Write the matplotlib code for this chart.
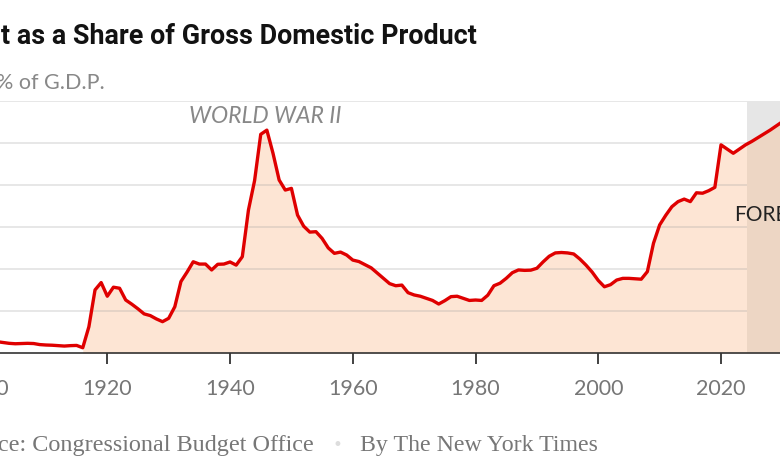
import numpy as np
import matplotlib.pyplot as plt

# debt held by the public, % of GDP
years = np.arange(1900, 2036)
debt = [6.0, 5.7, 5.4, 5.0, 4.6, 4.4, 4.5, 4.6, 4.5, 4.0,
        3.8, 3.7, 3.5, 3.3, 3.5, 3.6, 2.5, 12.5, 30.0, 33.5,
        27.0, 31.3, 30.8, 25.2, 23.2, 21.0, 18.6, 17.8, 16.2, 14.9,
        16.5, 22.0, 34.0, 38.5, 43.4, 42.3, 42.3, 39.5, 42.2, 42.3,
        43.3, 41.8, 45.8, 68.0, 82.0, 104.0, 106.0, 95.0, 82.3, 77.5,
        78.3, 65.6, 60.3, 57.5, 57.7, 54.5, 50.0, 47.4, 48.0, 46.6,
        44.2, 43.5, 42.0, 40.5, 38.0, 35.5, 33.0, 32.0, 32.3, 28.7,
        27.6, 27.0, 26.0, 25.0, 23.3, 24.9, 26.8, 27.0, 26.0, 25.0,
        25.2, 25.0, 27.5, 32.0, 33.2, 35.5, 38.2, 39.5, 39.3, 39.4,
        40.3, 43.3, 46.0, 47.6, 47.8, 47.6, 47.1, 44.7, 41.8, 38.5,
        34.5, 31.5, 32.5, 34.7, 35.5, 35.5, 35.3, 35.1, 38.7, 52.2,
        60.9, 65.5, 69.6, 72.0, 73.2, 72.0, 76.2, 76.0, 77.2, 78.8,
        99.0, 97.0, 95.0, 97.0, 99.0, 100.6, 102.4, 104.2, 106.0, 108.0,
        110.0, 112.0, 114.0, 116.0, 118.0, 120.0]
debt = np.array(debt)
fill_start = 1916
forecast_start = 2024.25
grid_vals = [20, 40, 60, 80, 100, 120]
xticks = list(range(1900, 2021, 20))

W, H = 780, 470
fig = plt.figure(figsize=(7.8, 4.7), dpi=100)
renderer = fig.canvas.get_renderer()

def fit_width(t, target):
    # scale the font so the text is target px wide
    w = t.get_window_extent(renderer).width
    t.set_fontsize(t.get_fontsize() * target / w)

# axes starts left of the figure and stops at its right edge (cropped chart)
def px(year):
    return 107.3 + (year - 1920) * 6.137
x0 = 1895
x1 = 1920 + (W - 107.3) / 6.137
ax = fig.add_axes([px(x0) / W, (H - 353) / H,
                   (W - px(x0)) / W, (353 - 100.7) / H])
ax.set_xlim(x0, x1)
ax.set_ylim(0, 120)

ax.axvspan(forecast_start, x1, color='#e6e6e6', lw=0, zorder=0)
m = years >= fill_start
ax.fill_between(years[m], 0, debt[m], color=(250/255, 189/255, 142/255),
                alpha=0.38, lw=0, zorder=1)
ax.hlines(grid_vals, x0, forecast_start, color='#999999', alpha=0.28,
          lw=1.2, zorder=2)
ax.plot(years, debt, color='#df0000', lw=2.4, solid_joinstyle='round',
        zorder=3)

for s in ['top', 'right', 'left']:
    ax.spines[s].set_visible(False)
ax.spines['bottom'].set_color('#333333')
ax.spines['bottom'].set_linewidth(1.2)
ax.set_yticks([])
ax.set_xticks(xticks)
ax.set_xticklabels([str(t) for t in xticks])
ax.tick_params(axis='x', length=8, width=1.3, color='#333333', pad=11,
               labelsize=15.5, labelcolor='#767676')
for lab in ax.get_xticklabels():
    lab.set_family('Lato')

ww = ax.text(1945.7, 112.3, 'WORLD WAR II', ha='center', va='center',
             fontsize=13.5, style='italic', color='#888888', family='Lato')
fit_width(ww, 153)
ax.text(2022.2, 65.6, 'FORECAST', ha='left', va='center', fontsize=15,
        color='#222222', family='Lato', clip_on=True)

title = fig.text(1 / W, 1 - 36 / H, 't as a Share of Gross Domestic Product',
                 ha='left', va='center', fontsize=20, fontweight='bold',
                 color='#121212', family='Roboto')
fit_width(title, 474)
fig.text(-4 / W, 1 - 83 / H, '% of G.D.P.', ha='left', va='center',
         fontsize=15.5, color='#888888', family='Lato')
src = fig.text(-2 / W, 1 - 445 / H, 'ce: Congressional Budget Office',
               ha='left', va='center', fontsize=16.5, color='#777777',
               family='Liberation Serif')
fit_width(src, 315)
fig.text(337 / W, 1 - 445 / H, '\u2022', ha='center', va='center',
         fontsize=12, color='#dddddd', family='DejaVu Sans')
by = fig.text(360 / W, 1 - 445 / H, 'By The New York Times', ha='left',
              va='center', fontsize=16.5, color='#777777',
              family='Liberation Serif')
fit_width(by, 238)

fig.savefig('out.png', dpi=100)
